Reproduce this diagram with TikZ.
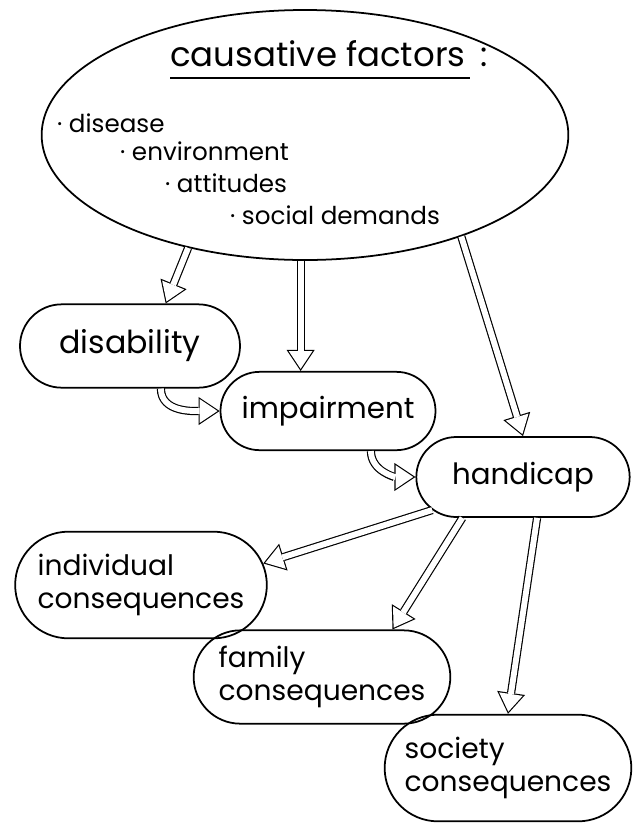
\documentclass[tikz,border=0pt]{standalone}
\usepackage{fontspec}
\setmainfont{Poppins}
\usetikzlibrary{shapes.geometric,shapes.misc,arrows.meta}

\tikzset{
	blob/.style={draw, line width=1.5pt, rounded rectangle, inner sep=0pt,
		align=left, font=\fontsize{24}{28}\selectfont},
	item/.style={anchor=base west, inner sep=0pt, font=\fontsize{21}{25}\selectfont},
	hollow/.style={
		preaction={draw=black, line width=7pt, shorten >=0pt,
			-{Triangle[length=18pt,width=24pt,line width=0pt]}},
		draw=white, line width=5pt, shorten >=1.8pt,
		-{Triangle[length=15.2pt,width=20.3pt,line width=0pt]}},
}

\begin{document}
\begin{tikzpicture}[x=0.03cm, y=0.03cm]
	\useasboundingbox (0,0) rectangle (633,-827);
	% causes
	\node[ellipse, draw, line width=1.5pt, minimum width=15.8cm, minimum height=7.5cm] (factors) at (305,-135) {};
	\node[anchor=base west, inner sep=0pt, font=\fontsize{29}{33}\selectfont] (title) at (170,-66) {causative factors};
	\node[anchor=base west, inner sep=0pt, font=\fontsize{29}{33}\selectfont] (colon) at ([xshift=12pt]title.base east) {:};
	\draw[line width=1.2pt] ([yshift=-0.36cm]title.base west) -- ([yshift=-0.36cm,xshift=4pt]title.base east);
	\node[item] (disease) at (57,-132) {· disease};
	\node[item] (environ) at (120,-160) {· environment};
	\node[item] (attitude) at (165,-192) {· attitudes};
	\node[item] (social) at (230,-224) {· social demands};
	% chain
	\node[blob, minimum width=6.6cm, minimum height=2.5cm, font=\fontsize{27}{31}\selectfont] (dis) at (130,-346) {disability};
	\node[blob, minimum width=6.45cm, minimum height=2.35cm, font=\fontsize{25}{29}\selectfont] (imp) at (328,-411) {impairment};
	\node[blob, minimum width=6.4cm, minimum height=2.4cm, font=\fontsize{25}{29}\selectfont] (hand) at (523,-477) {handicap};
	% consequences
	\node[blob, minimum width=7.55cm, minimum height=3.2cm] (indiv) at (141,-585) {individual\\consequences};
	\node[blob, minimum width=7.7cm, minimum height=2.8cm] (fam) at (322,-677) {family\\consequences};
	\node[blob, minimum width=7.4cm, minimum height=3.2cm] (soc) at (508,-768) {society\\consequences};
	% arrows
	\draw[hollow] (factors.224) -- (dis.50);
	\draw[hollow] (factors.268) -- (factors.268 |- imp.north);
	\draw[hollow] (factors.-33) -- (hand.north);
	\draw[hollow] (dis.-54) to[out=-90, in=180] (imp.west);
	\draw[hollow] (imp.-43) to[out=-90, in=180] (hand.west);
	\draw[hollow] (hand.200) -- (indiv.10);
	\draw[hollow] (hand.214) -- (fam.34);
	\draw[hollow] (hand.-71) -- (soc.north);
\end{tikzpicture}
\end{document}
